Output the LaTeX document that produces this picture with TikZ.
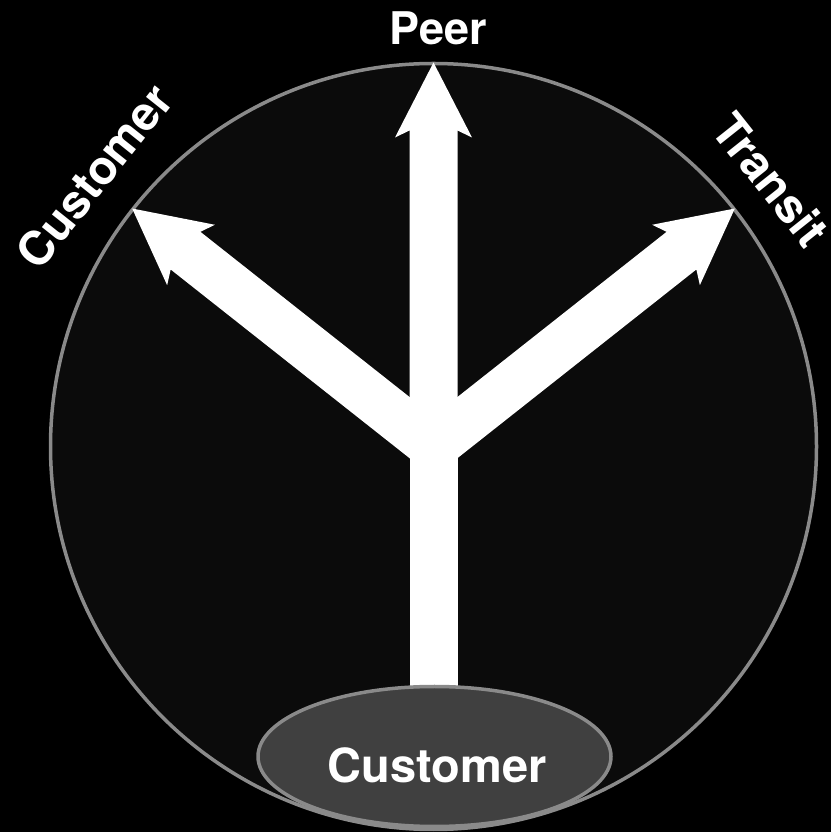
\documentclass[tikz,border=0pt]{standalone}
\usepackage{fontspec}
\setmainfont{TeX Gyre Heros}
\usetikzlibrary{shapes.geometric}
\definecolor{circfill}{RGB}{11,11,11}
\definecolor{ringgray}{RGB}{138,138,138}
\definecolor{ellfill}{RGB}{64,64,64}
\tikzset{
  lbl/.style={text=white, font=\fontsize{45}{54}\selectfont\bfseries, inner sep=0pt},
  rlbl/.style={lbl, font=\fontsize{47}{56}\selectfont\bfseries},
  arrowshape/.style={fill=white},
}
\begin{document}
\begin{tikzpicture}[x=1pt,y=1pt]
\useasboundingbox (0,0) rectangle (831,832);
\fill[black] (0,0) rectangle (831,832);
\coordinate (c) at (433.5,385.5);
\fill[circfill, draw=ringgray, line width=3.5pt] (c) circle[radius=383];
% trunk down to the source ellipse
\fill[white] (409.5,385.5) rectangle (457.5,110);
% three arrows from the centre
\foreach \a in {90,141.7,38.3}{
  \begin{scope}[shift={(c)}, rotate=\a]
    \fill[arrowshape] (0,-24) -- (316,-24) -- (309,-38.5) -- (384,0) -- (309,38.5) -- (316,24) -- (0,24) -- cycle;
  \end{scope}
}
\node[ellipse, draw=ringgray, fill=ellfill, line width=3.5pt, minimum width=353pt, minimum height=140pt, inner sep=0pt] (src) at (434.5,75.5) {};
\node[rlbl, anchor=base] (srclbl) at (437,49) {Customer};
\node[lbl, anchor=base] (peer) at (438.5,787.7) {Peer};
\node[rlbl, rotate=51.5] (cust) at (94,656) {Customer};
\node[rlbl, rotate=-51.5] (transit) at (771,652.5) {Transit};
\end{tikzpicture}
\end{document}
